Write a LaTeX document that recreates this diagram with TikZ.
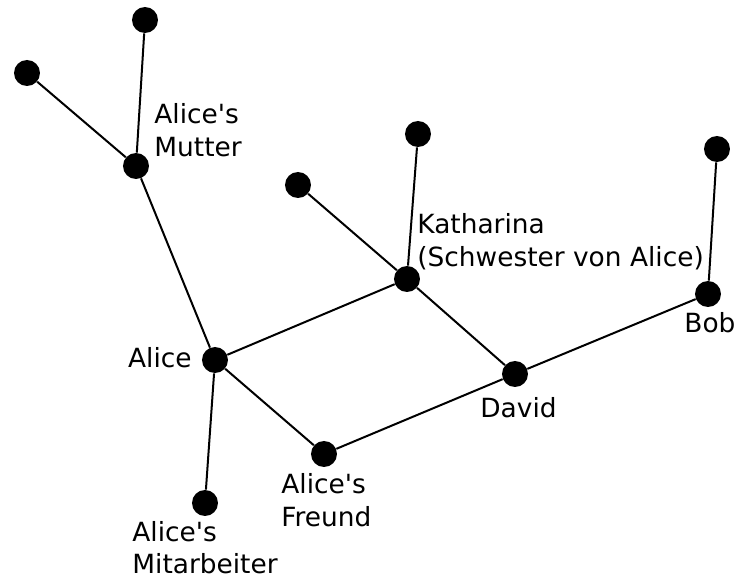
\documentclass[tikz,border=0pt]{standalone}
\usepackage{fontspec}
\setmainfont{DejaVu Sans}[Ligatures=TeXOff]
\begin{document}
\begin{tikzpicture}[x=0.5pt,y=-0.5pt,
  dot/.style={circle,fill=black,inner sep=0pt,minimum size=13pt},
  edge/.style={line width=1pt},
  lbl/.style={anchor=base west,inner sep=0pt,align=left,font=\fontsize{13.2pt}{16.5pt}\selectfont}]
\useasboundingbox (0,0) rectangle (736,578);
\node[dot] (t1) at (145,20) {};
\node[dot] (t2) at (27,73) {};
\node[dot] (mutter) at (136,166) {};
\node[dot] (alice) at (215,360) {};
\node[dot] (mit) at (205,503) {};
\node[dot] (freund) at (324,454) {};
\node[dot] (david) at (515,374) {};
\node[dot] (bob) at (708,294) {};
\node[dot] (bt) at (717,149) {};
\node[dot] (kath) at (407,279) {};
\node[dot] (kt) at (418,134) {};
\node[dot] (kl) at (298,185) {};
\draw[edge] (t1) -- (mutter);
\draw[edge] (t2) -- (mutter);
\draw[edge] (mutter) -- (alice);
\draw[edge] (alice) -- (kath);
\draw[edge] (alice) -- (mit);
\draw[edge] (alice) -- (freund);
\draw[edge] (freund) -- (david);
\draw[edge] (david) -- (bob);
\draw[edge] (bob) -- (bt);
\draw[edge] (kath) -- (kt);
\draw[edge] (kath) -- (kl);
\draw[edge] (kath) -- (david);
\node[lbl] (lmutter) at (154,156) {Alice's\\Mutter};
\node[lbl,anchor=base east] (lalice) at (192,368) {Alice};
\node[lbl] (lmit) at (132,574) {Alice's\\Mitarbeiter};
\node[lbl] (lkath) at (417,266) {Katharina\\(Schwester von Alice)};
\node[lbl] (lbob) at (684,333) {Bob};
\node[lbl] (lfreund) at (281,526) {Alice's\\Freund};
\node[lbl] (ldavid) at (480,417) {David};
\end{tikzpicture}
\end{document}
